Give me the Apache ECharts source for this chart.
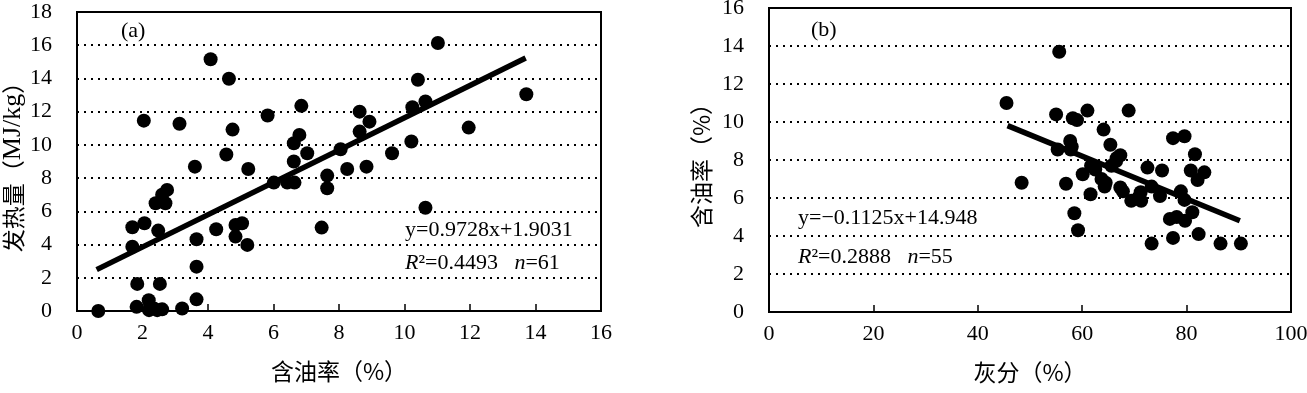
<!DOCTYPE html>
<html>
<head>
<meta charset="utf-8">
<script src="https://cdn.jsdelivr.net/npm/echarts@6/dist/echarts.min.js"></script>
<style>
  html, body { margin: 0; padding: 0; background: #fff; }
  #chart { width: 1307px; height: 393px; }
</style>
</head>
<body>
<div id="chart"></div>
<script>
// (a) 含油率 - 发热量
const oilA = [0.65, 1.82, 2.19, 2.2, 2.35, 2.6, 3.21, 3.65, 1.84, 2.53, 3.65, 1.69, 1.69, 2.06, 2.48, 2.4,
  2.7, 2.6, 2.75, 3.65, 4.25, 4.84, 5.04, 4.84, 5.2, 3.6, 2.04, 3.13, 4.08, 4.64, 4.75, 4.56, 5.23, 5.82,
  6.85, 6.79, 6.62, 7.03, 6.62, 6.01, 6.42, 6.64, 8.05, 8.25, 7.64, 7.64, 7.47, 8.63, 8.63, 8.93, 11.02,
  10.41, 13.72, 10.64, 10.24, 11.96, 10.21, 9.62, 8.84, 10.64, 2.45]
const heatA = [0, 0.25, 0.65, 0.05, 0.15, 0.1, 0.15, 0.7, 1.63, 1.63, 2.67, 3.87, 5.04, 5.28, 4.84, 6.49,
  6.49, 7.0, 7.29, 4.32, 4.92, 5.18, 5.28, 4.48, 3.98, 8.69, 11.46, 11.27, 15.16, 13.98, 10.92, 9.42, 8.55, 11.77,
  12.35, 10.6, 10.1, 9.5, 9.0, 7.73, 7.73, 7.73, 9.74, 8.55, 8.15, 7.39, 5.02, 12.0, 10.8, 11.4, 16.13,
  13.92, 13.05, 12.61, 12.27, 11.04, 10.2, 9.5, 8.69, 6.22, 0.05]
const fitAx = [0.6, 13.7]
const fitAy = [2.49, 15.23]

// (b) 灰分 - 含油率
const ashB = [45.5, 48.4, 55.6, 55.0, 58.2, 59.0, 61.0, 68.9, 64.1, 65.4, 57.7, 55.3, 57.8, 67.3, 66.5,
  65.6, 61.7, 60.1, 63.7, 64.3, 56.9, 61.6, 67.3, 67.8, 58.5, 59.2, 72.5, 75.3, 73.3, 71.2, 69.4, 70.7,
  74.9, 77.4, 79.6, 81.6, 80.8, 83.4, 82.1, 78.9, 79.6, 76.8, 78.1, 79.7, 81.1, 82.3, 77.4, 73.3, 86.5,
  90.4, 71.3, 66.6, 62.5, 64.5, 58.0]
const oilB = [11.0, 6.8, 13.7, 10.4, 10.2, 10.1, 10.6, 10.6, 9.6, 8.8, 9.0, 8.55, 8.55, 8.25, 7.95,
  7.7, 7.7, 7.25, 7.0, 6.6, 6.75, 6.2, 6.55, 6.35, 5.2, 4.3, 7.6, 7.45, 6.6, 6.3, 5.85, 6.0,
  6.1, 9.15, 9.25, 8.3, 7.45, 7.35, 6.95, 6.35, 5.9, 4.9, 5.0, 4.8, 5.25, 4.1, 3.9, 3.6, 3.6,
  3.6, 5.85, 8.1, 7.5, 6.8, 8.7]
const fitBx = [45.7, 90.2]
const fitBy = [9.81, 4.80]

const pairs = (xs, ys) => xs.map((x, i) => [x, ys[i]])

const serif = 'Liberation Serif'
const cjk = 'Noto Sans CJK SC'

let labelStyle = { fontFamily: serif, fontSize: 22, color: '#000', margin: 25 }
let nameStyle = { fontFamily: cjk, fontSize: 23, color: '#000', rich: { s: { fontFamily: serif, fontSize: 26, color: '#000' } } }
let dotted = { show: true, lineStyle: { color: '#000', type: [2, 5], width: 1.8 } }
let axisLine = { show: true, lineStyle: { color: '#000', width: 2 } }

const xAxisBase = (min, max, interval, name) => ({
  type: 'value', min: min, max: max, interval: interval, name: name,
  nameLocation: 'middle', nameGap: 49, nameTextStyle: nameStyle,
  axisLine: axisLine,
  axisTick: { show: true, inside: true, length: 7, lineStyle: { color: '#000', width: 1.5 } },
  axisLabel: Object.assign({}, labelStyle, { margin: 11 }),
  splitLine: { show: false }
})
const yAxisBase = (min, max, interval, name, gap) => ({
  type: 'value', min: min, max: max, interval: interval, name: name,
  nameLocation: 'middle', nameGap: gap, nameTextStyle: nameStyle,
  axisLine: axisLine,
  axisTick: { show: false },
  axisLabel: labelStyle,
  splitLine: dotted
})

const textEl = (left, top, text) => ({
  type: 'text', left: left, top: top,
  style: {
    text: text, fill: '#000', font: '22px "Liberation Serif"',
    rich: { i: { fontStyle: 'italic', fontFamily: serif, fontSize: 22, fill: '#000' }, n: { fontFamily: serif, fontSize: 22, fill: '#000' } }
  }
})

let option = {
  animation: false,
  backgroundColor: '#fff',
  grid: [
    { left: 77, right: 706, top: 12, bottom: 82, show: true, borderColor: '#000', borderWidth: 2, outerBoundsMode: 'none' },
    { left: 769, right: 16, top: 8, bottom: 81, show: true, borderColor: '#000', borderWidth: 2, outerBoundsMode: 'none' }
  ],
  xAxis: [
    Object.assign(xAxisBase(0, 16, 2, '含油率（%）'), { gridIndex: 0 }),
    Object.assign(xAxisBase(0, 100, 20, '灰分（%）'), { gridIndex: 1 })
  ],
  yAxis: [
    Object.assign(yAxisBase(0, 18, 2, '发热量（{s|MJ/kg}）', 48), { gridIndex: 0 }),
    Object.assign(yAxisBase(0, 16, 2, '含油率（%）', 56), { gridIndex: 1 })
  ],
  graphic: [
    textEl(121, 20, '(a)'),
    textEl(811, 19, '(b)'),
    textEl(405, 219, 'y=0.9728x+1.9031'),
    textEl(405, 252, '{i|R}{n|²=0.4493   }{i|n}{n|=61}'),
    textEl(798, 207, 'y=−0.1125x+14.948'),
    textEl(798, 246, '{i|R}{n|²=0.2888   }{i|n}{n|=55}')
  ],
  series: [
    {
      type: 'scatter', xAxisIndex: 0, yAxisIndex: 0,
      data: pairs(oilA, heatA), symbolSize: 14, itemStyle: { color: '#000', opacity: 1 }
    },
    {
      type: 'line', xAxisIndex: 0, yAxisIndex: 0,
      data: pairs(fitAx, fitAy), symbol: 'none', lineStyle: { color: '#000', width: 5.5 }
    },
    {
      type: 'scatter', xAxisIndex: 1, yAxisIndex: 1,
      data: pairs(ashB, oilB), symbolSize: 14, itemStyle: { color: '#000', opacity: 1 }
    },
    {
      type: 'line', xAxisIndex: 1, yAxisIndex: 1,
      data: pairs(fitBx, fitBy), symbol: 'none', lineStyle: { color: '#000', width: 5.5 }
    }
  ]
}

let myChart = echarts.init(document.getElementById('chart'))
myChart.setOption(option)
</script>
</body>
</html>
